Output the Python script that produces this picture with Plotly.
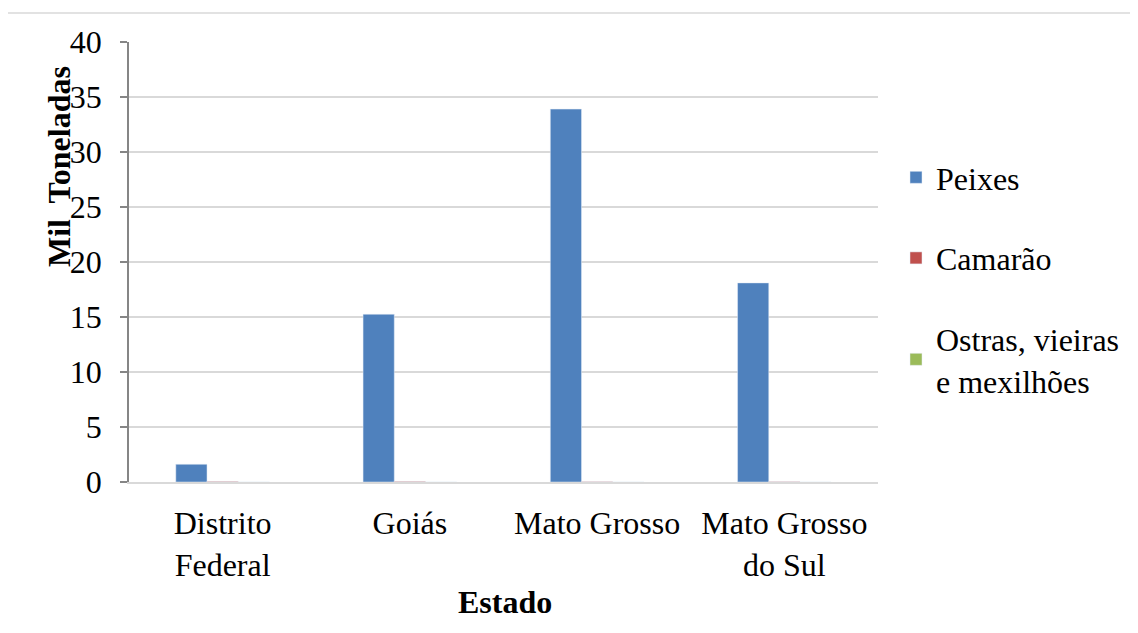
import plotly.graph_objects as go

estados = ["Distrito<br>Federal", "Goiás", "Mato Grosso", "Mato Grosso<br>do Sul"]
peixes = [1.61, 15.25, 33.9, 18.1]
camarao = [0.05, 0.05, 0.03, 0.03]
ostras = [0.0, 0.0, 0.0, 0.0]
y_ticks = [0, 5, 10, 15, 20, 25, 30, 35, 40]

FONT = "Liberation Serif"
FS = 32

fig = go.Figure()
fig.add_trace(go.Bar(name="Peixes", x=estados, y=peixes, marker_color="#4f81bd",
                     legendgroup="a"))
fig.add_trace(go.Bar(name="Camarão", x=estados, y=camarao, marker_color="#c0504d",
                     legendgroup="b"))
fig.add_trace(go.Bar(name="Ostras, vieiras<br>e mexilhões", x=estados, y=ostras,
                     marker_color="#9bbb59", legendgroup="c"))

# page body has an 8px margin, so the figure starts at (8, 8)
OFF = 8
L, T = 129 - OFF, 42 - OFF
pw, ph = 749, 440
W, H = 1130, 625
R, B = W - L - pw, H - T - ph

def px_x(x):
    return (x - OFF - L) / pw

def px_y(y):
    return (T + ph - (y - OFF)) / ph

fig.update_layout(
    width=W, height=H,
    margin=dict(l=L, r=R, t=T, b=B, pad=0),
    paper_bgcolor="white", plot_bgcolor="white",
    font=dict(family=FONT, size=FS, color="black"),
    barmode="group", bargap=0.5, bargroupgap=0,
    legend=dict(x=px_x(896), y=px_y(150), xanchor="left", yanchor="top",
                traceorder="grouped", tracegroupgap=36,
                font=dict(family=FONT, size=FS), itemwidth=30),
    showlegend=True,
)
fig.update_xaxes(showgrid=False, showline=True, linecolor="#d9d9d9", linewidth=1.5,
                 ticks="", tickfont=dict(family=FONT, size=FS), fixedrange=True,
                 ticklabelstandoff=12)
fig.update_yaxes(range=[0, 40], tickvals=y_ticks, showgrid=True, gridcolor="#d9d9d9",
                 gridwidth=1.5, showline=True, linecolor="#868686", linewidth=1.5,
                 ticks="outside", ticklen=7, tickcolor="#868686", tickwidth=1.5,
                 zeroline=False, tickfont=dict(family=FONT, size=FS), ticklabelstandoff=12)

# axis titles
fig.add_annotation(text="<b>Mil  Toneladas</b>", textangle=-90, xref="paper", yref="paper",
                   x=px_x(59), y=px_y(167), showarrow=False,
                   font=dict(family=FONT, size=FS), xanchor="center", yanchor="middle")
fig.add_annotation(text="<b>Estado</b>", xref="paper", yref="paper",
                   x=px_x(505), y=px_y(602), showarrow=False,
                   font=dict(family=FONT, size=FS), xanchor="center", yanchor="middle")

# chart border
fig.add_shape(type="rect", xref="paper", yref="paper",
              x0=px_x(7), x1=px_x(1150), y0=px_y(660), y1=px_y(13),
              line=dict(color="#d9d9d9", width=1.5), fillcolor="rgba(0,0,0,0)", layer="below")

fig.write_html("out.html")
